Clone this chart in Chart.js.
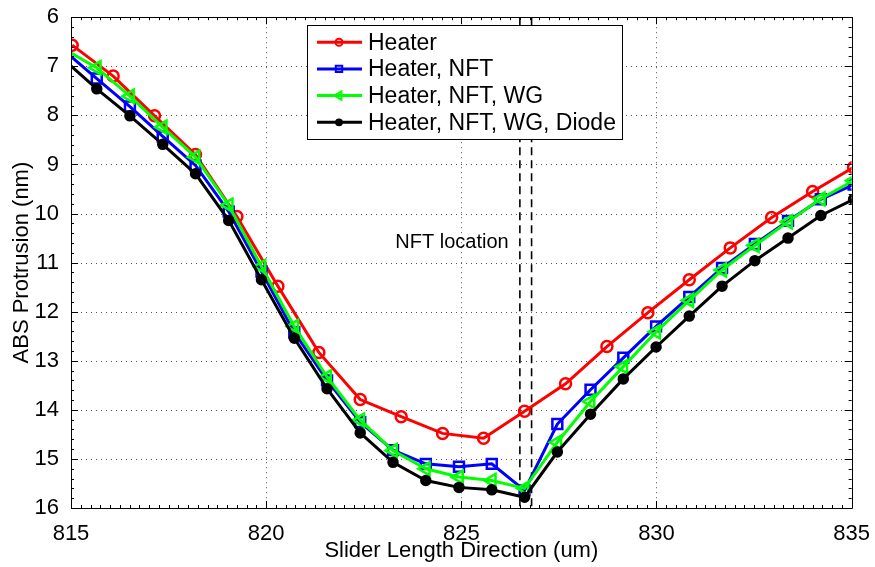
<!DOCTYPE html>
<html>
<head>
<meta charset="utf-8">
<script src="https://cdn.jsdelivr.net/npm/chart.js@4.4.0/dist/chart.umd.min.js"></script>
<style>
  html, body { margin: 0; padding: 0; background: #fff; }
</style>
</head>
<body>
<canvas id="chart" width="875" height="567"></canvas>
<script>
// Heater alone was sampled on a coarser grid than the other runs
const X_HEATER = [815.03, 816.08, 817.14, 818.19, 819.25, 820.30, 821.35, 822.41, 823.46, 824.52,
  825.57, 826.62, 827.67, 828.73, 829.78, 830.84, 831.89, 832.95, 834.00, 835.05];
const Y_HEATER = [6.57, 7.20, 8.01, 8.80, 10.06, 11.48, 12.83, 13.79, 14.14, 14.48,
  14.58, 14.03, 13.47, 12.71, 12.02, 11.35, 10.70, 10.08, 9.55, 9.06];

const X_FINE = [814.82, 815.66, 816.51, 817.35, 818.19, 819.04, 819.88, 820.72, 821.56, 822.41,
  823.25, 824.09, 824.94, 825.78, 826.62, 827.46, 828.31, 829.15, 829.99, 830.84,
  831.68, 832.52, 833.37, 834.21, 835.05];
const Y_NFT = [6.68, 7.25, 7.82, 8.43, 9.02, 9.96, 11.18, 12.42, 13.40, 14.25,
  14.82, 15.10, 15.16, 15.10, 15.64, 14.29, 13.59, 12.94, 12.30, 11.70,
  11.11, 10.62, 10.15, 9.71, 9.41];
const Y_WG = [6.65, 7.03, 7.61, 8.24, 8.85, 9.83, 11.08, 12.30, 13.33, 14.21,
  14.83, 15.20, 15.37, 15.44, 15.60, 14.66, 13.83, 13.12, 12.41, 11.77,
  11.15, 10.65, 10.17, 9.70, 9.33];
const Y_DIODE = [6.87, 7.46, 8.01, 8.59, 9.19, 10.14, 11.35, 12.54, 13.57, 14.47,
  15.07, 15.44, 15.58, 15.63, 15.78, 14.86, 14.09, 13.37, 12.72, 12.09,
  11.48, 10.96, 10.50, 10.04, 9.71];

const SERIES_NAMES = ["Heater", "Heater, NFT", "Heater, NFT, WG", "Heater, NFT, WG, Diode"];
const NFT_EDGES = [826.5, 826.8];
const NFT_LABEL = "NFT location";

const X_MIN = 815, X_MAX = 835, X_STEP = 5, X_MINOR = 0.25;
const Y_MIN = 6, Y_MAX = 16, Y_STEP = 1, Y_MINOR = 0.2;

const FONT = "'Liberation Sans', Arial, Helvetica, sans-serif";

const pts = (xs, ys) => xs.map((x, i) => ({ x, y: ys[i] }));

function serie(label, xs, ys, color, style, radius, order, extra) {
  return Object.assign({
    label,
    data: pts(xs, ys),
    borderColor: color,
    backgroundColor: "rgba(0,0,0,0)",
    pointBorderColor: color,
    pointBackgroundColor: "rgba(0,0,0,0)",
    borderWidth: 3,
    pointStyle: style,
    pointRadius: radius,
    pointBorderWidth: 2.5,
    tension: 0,
    order,
  }, extra || {});
}

const datasets = [
  serie(SERIES_NAMES[0], X_HEATER, Y_HEATER, "#ff0000", "circle", 5.5, 4),
  serie(SERIES_NAMES[1], X_FINE, Y_NFT, "#0000ff", "rect", 7, 3),
  serie(SERIES_NAMES[2], X_FINE, Y_WG, "#00ff00", "triangle", 7.5, 2, { pointRotation: -90 }),
  serie(SERIES_NAMES[3], X_FINE, Y_DIODE, "#000000", "circle", 4.5, 1, { pointBackgroundColor: "#000000" }),
];

// dashed markers of the NFT position
NFT_EDGES.forEach((xv) => {
  datasets.push({
    label: "nft-edge",
    data: [{ x: xv, y: Y_MIN }, { x: xv, y: Y_MAX }],
    borderColor: "#000",
    borderWidth: 1.6,
    borderDash: [8, 5],
    pointRadius: 0,
    order: 9,
  });
});

// Grilla punteada (estilo MATLAB)
const gridPlugin = {
  id: "gridPlugin",
  beforeDatasetsDraw(chart) {
    const { ctx, chartArea: a, scales } = chart;
    const sx = scales.x, sy = scales.y;
    ctx.save();
    ctx.strokeStyle = "#555";
    ctx.lineWidth = 1;
    ctx.setLineDash([1, 4]);
    ctx.beginPath();
    for (let v = X_MIN + X_STEP; v < X_MAX; v += X_STEP) {
      const px = Math.round(sx.getPixelForValue(v)) + 0.5;
      ctx.moveTo(px, a.top); ctx.lineTo(px, a.bottom);
    }
    for (let v = Y_MIN + Y_STEP; v < Y_MAX; v += Y_STEP) {
      const py = Math.round(sy.getPixelForValue(v)) + 0.5;
      ctx.moveTo(a.left, py); ctx.lineTo(a.right, py);
    }
    ctx.stroke();
    ctx.restore();
  },
};

// Caja, ticks hacia adentro, texto NFT y leyenda
const boxPlugin = {
  id: "boxPlugin",
  afterDatasetsDraw(chart) {
    const { ctx, chartArea: a, scales } = chart;
    const sx = scales.x, sy = scales.y;
    ctx.save();

    // texto NFT location
    ctx.fillStyle = "#000";
    ctx.font = "20px " + FONT;
    ctx.textAlign = "center";
    ctx.textBaseline = "middle";
    ctx.fillText(NFT_LABEL, sx.getPixelForValue(824.76), sy.getPixelForValue(10.58));

    // marco
    ctx.strokeStyle = "#000";
    ctx.lineWidth = 1;
    ctx.beginPath();
    ctx.rect(Math.round(a.left) + 0.5, Math.round(a.top) + 0.5,
      Math.round(a.right - a.left), Math.round(a.bottom - a.top));
    ctx.stroke();

    ctx.beginPath();
    const nx = Math.round((X_MAX - X_MIN) / X_MINOR);
    for (let i = 0; i <= nx; i++) {
      const v = X_MIN + i * X_MINOR;
      const len = Math.abs(v / X_STEP - Math.round(v / X_STEP)) < 1e-6 ? 7 : 3;
      const px = Math.round(sx.getPixelForValue(v)) + 0.5;
      ctx.moveTo(px, a.bottom); ctx.lineTo(px, a.bottom - len);
      ctx.moveTo(px, a.top); ctx.lineTo(px, a.top + len);
    }
    const ny = Math.round((Y_MAX - Y_MIN) / Y_MINOR);
    for (let i = 0; i <= ny; i++) {
      const v = Y_MIN + i * Y_MINOR;
      const len = Math.abs(v - Math.round(v)) < 1e-6 ? 7 : 3;
      const py = Math.round(sy.getPixelForValue(v)) + 0.5;
      ctx.moveTo(a.left, py); ctx.lineTo(a.left + len, py);
      ctx.moveTo(a.right, py); ctx.lineTo(a.right - len, py);
    }
    ctx.stroke();

    // leyenda
    const fontSize = 23;
    ctx.font = fontSize + "px " + FONT;
    const rowH = 26.7;
    const lx = a.left + 236, ly = a.top + 8;
    let maxW = 0;
    SERIES_NAMES.forEach((n) => { maxW = Math.max(maxW, ctx.measureText(n).width); });
    const bw = 61 + maxW + 6, bh = rowH * 4 + 7;
    ctx.fillStyle = "#fff";
    ctx.fillRect(lx, ly, bw, bh);
    ctx.strokeStyle = "#000";
    ctx.lineWidth = 1;
    ctx.strokeRect(Math.round(lx) + 0.5, Math.round(ly) + 0.5, Math.round(bw), Math.round(bh));

    datasets.slice(0, 4).forEach((ds, i) => {
      const cy = ly + 17 + i * rowH;
      ctx.strokeStyle = ds.borderColor;
      ctx.lineWidth = ds.borderWidth;
      ctx.beginPath();
      ctx.moveTo(lx + 10, cy);
      ctx.lineTo(lx + 55, cy);
      ctx.stroke();
      ctx.fillStyle = ds.pointBackgroundColor;
      ctx.lineWidth = 2;
      Chart.helpers.drawPoint(ctx, {
        pointStyle: ds.pointStyle,
        rotation: ds.pointRotation || 0,
        radius: ds.pointRadius * 0.65,
        borderWidth: 2,
      }, lx + 32, cy);
      ctx.fillStyle = "#000";
      ctx.textAlign = "left";
      ctx.textBaseline = "middle";
      ctx.fillText(ds.label, lx + 61, cy + 1);
    });

    ctx.restore();
  },
};

new Chart(document.getElementById("chart").getContext("2d"), {
  type: "line",
  data: { datasets },
  options: {
    responsive: false,
    animation: false,
    devicePixelRatio: 1,
    layout: { padding: { top: 14, right: 21, left: 0, bottom: 0 } },
    plugins: {
      legend: { display: false },
      tooltip: { enabled: false },
    },
    scales: {
      x: {
        type: "linear",
        min: X_MIN,
        max: X_MAX,
        afterFit: (s) => { s.height = 59; },
        ticks: {
          stepSize: X_STEP,
          color: "#000",
          font: { family: FONT, size: 22 },
          padding: 5,
          maxRotation: 0,
        },
        grid: { display: false },
        border: { display: false },
        title: {
          display: true,
          text: "Slider Length Direction (um)",
          color: "#000",
          font: { family: FONT, size: 22 },
          padding: { top: 0, bottom: 3 },
        },
      },
      y: {
        type: "linear",
        reverse: true,
        min: Y_MIN,
        max: Y_MAX,
        afterFit: (s) => { s.width = 71; },
        ticks: {
          stepSize: Y_STEP,
          color: "#000",
          font: { family: FONT, size: 22 },
          padding: 4,
        },
        grid: { display: false },
        border: { display: false },
        title: {
          display: true,
          text: "ABS Protrusion (nm)",
          color: "#000",
          font: { family: FONT, size: 22 },
          padding: { top: 9, bottom: 0 },
        },
      },
    },
  },
  plugins: [gridPlugin, boxPlugin],
});
</script>
</body>
</html>
